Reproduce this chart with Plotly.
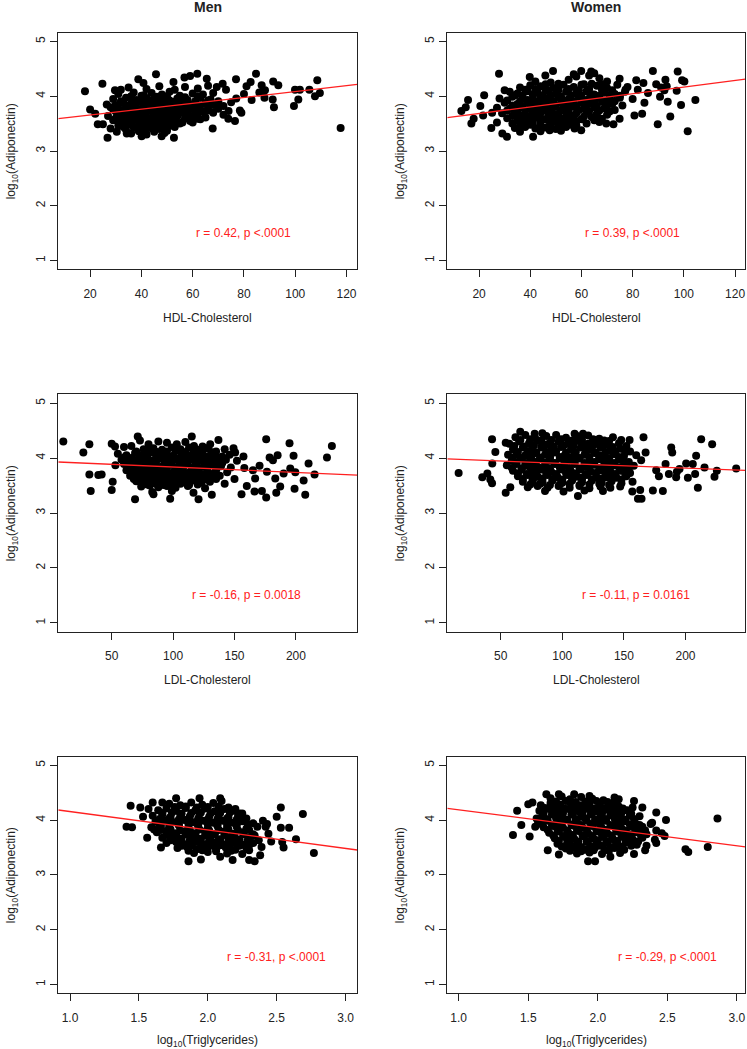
import plotly.graph_objects as go

# ---------------- data ----------------
men_hdl = [
    (18, 4.09), (20, 3.76), (22, 3.68), (24.8, 4.23), (23, 3.49), (26.8, 3.24), (26.5, 3.85), (29.7, 4.11),
    (32, 4.12), (30.4, 3.35), (34.3, 3.32), (38.8, 4.31), (40.8, 4.24), (40.1, 3.27), (45.7, 4.40), (47.9, 3.27),
    (52.7, 3.24), (52.5, 4.26), (56.8, 4.34), (59, 4.37), (61.8, 4.41), (65.5, 4.32), (67.8, 3.41), (69.4, 4.17),
    (71.7, 4.23), (76.9, 4.31), (76.5, 3.55), (73.9, 3.59), (78.4, 3.74), (81, 4.18), (82.6, 4.26), (84.7, 4.41),
    (86.9, 4.20), (88.2, 4.11), (91.4, 4.27), (91.7, 3.80), (93.4, 4.20), (91.2, 3.94), (99.5, 3.82), (99.9, 4.12),
    (101.8, 4.12), (101.2, 3.94), (105.5, 4.12), (107.7, 4.0), (108.6, 4.29), (109.6, 4.06), (117.7, 3.42),
    (35, 4.16), (42, 4.13), (47, 4.18), (53, 4.12), (57, 4.17), (62, 4.14), (66, 4.19), (73, 4.12),
    (31, 4.04), (37, 4.07), (41, 4.02), (44, 4.06), (48, 4.03), (51, 4.08), (55, 4.01), (60, 4.05), (64, 4.03),
    (68, 4.06), (80, 4.04), (86, 4.07),
    (29, 3.95), (34, 3.97), (38, 3.93), (42, 3.96), (45, 3.94), (48, 3.98), (51, 3.92), (54, 3.96), (58, 3.93),
    (63, 3.97), (67, 3.94), (70, 3.91), (77, 3.96), (83, 3.93), (88, 3.97),
    (33, 3.88), (36, 3.86), (40, 3.89), (43, 3.87), (46, 3.85), (49, 3.89), (52, 3.86), (56, 3.88), (60, 3.85),
    (65, 3.87), (69, 3.84), (75, 3.89),
    (28, 3.80), (31, 3.78), (35, 3.81), (38, 3.79), (41, 3.82), (44, 3.78), (47, 3.80), (50, 3.77), (53, 3.81),
    (56, 3.79), (59, 3.82), (62, 3.78), (66, 3.80), (70, 3.77), (74, 3.73), (79, 3.70),
    (30, 3.72), (34, 3.70), (37, 3.73), (40, 3.71), (43, 3.74), (46, 3.70), (49, 3.72), (52, 3.69), (55, 3.73),
    (58, 3.71), (61, 3.68), (64, 3.72), (68, 3.70), (72, 3.66),
    (27, 3.64), (32, 3.62), (36, 3.65), (39, 3.63), (42, 3.61), (45, 3.64), (48, 3.62), (51, 3.66), (54, 3.63),
    (57, 3.60), (60, 3.64), (65, 3.61),
    (29, 3.56), (33, 3.54), (37, 3.57), (40, 3.55), (43, 3.53), (46, 3.57), (49, 3.54), (52, 3.56), (56, 3.52),
    (59, 3.55), (63, 3.58),
    (25, 3.49), (31, 3.47), (35, 3.49), (39, 3.46), (42, 3.48), (45, 3.45), (48, 3.49), (51, 3.46), (55, 3.50),
    (28, 3.41), (34, 3.39), (38, 3.42), (41, 3.38), (44, 3.41), (47, 3.40), (50, 3.37),
    (36, 3.32), (42, 3.30), (49, 3.33),
    (36, 4.00), (40, 4.01), (46, 3.99), (50, 4.00), (57, 3.98), (62, 4.00),
    (32, 3.91), (36.5, 3.92), (40, 3.90), (44, 3.92), (47, 3.91), (50, 3.93), (53, 3.90), (56, 3.92), (61, 3.91),
    (66, 3.92),
    (30, 3.84), (34, 3.83), (37.5, 3.85), (42, 3.83), (45.5, 3.84), (48, 3.82), (51, 3.84), (54, 3.83), (58, 3.85),
    (63, 3.83), (68, 3.84), (72, 3.82),
    (29, 3.76), (33, 3.75), (36, 3.77), (39, 3.75), (42.5, 3.76), (45.5, 3.74), (48.5, 3.76), (51.5, 3.75),
    (54.5, 3.77), (57.5, 3.75), (60.5, 3.76), (66, 3.74),
    (31, 3.68), (35, 3.67), (38, 3.69), (41.5, 3.67), (44.5, 3.68), (47.5, 3.66), (50.5, 3.68), (53.5, 3.67),
    (56.5, 3.69), (62, 3.66),
    (30, 3.60), (34.5, 3.59), (38, 3.61), (41, 3.59), (44, 3.60), (47, 3.58), (50, 3.60), (53, 3.59), (58, 3.61),
    (62, 3.59),
    (32, 3.52), (36, 3.51), (39, 3.53), (42, 3.51), (45, 3.52), (48, 3.50), (51, 3.52), (54, 3.51), (60, 3.52),
    (33, 3.44), (37, 3.43), (40, 3.45), (43, 3.44), (46, 3.43), (49, 3.45), (53, 3.44),
    (39, 3.36), (45, 3.35),
]

women_hdl = [
    (13.1, 3.73), (15.7, 3.93), (14.8, 3.80), (17, 3.50), (17.9, 3.59), (22, 4.02), (21.6, 3.65), (20.5, 3.82),
    (24.8, 3.42), (25.1, 3.70), (27.8, 4.41), (29.1, 3.32), (30.9, 3.26), (30, 4.11), (41.1, 3.26), (39.8, 4.35),
    (48.9, 4.46), (45.9, 4.38), (47.6, 3.38), (59.9, 4.46), (59.9, 3.38), (57.3, 3.41), (63.8, 4.45), (69.7, 3.50),
    (72.5, 3.49), (74.9, 3.59), (74.9, 4.32), (77.2, 4.12), (80.7, 3.65), (81.4, 4.29), (83.7, 3.68), (84.2, 4.24),
    (84.6, 3.88), (87.9, 4.46), (89.2, 4.22), (89.8, 3.49), (91.1, 4.16), (92.8, 4.30), (93.3, 4.18), (93.7, 3.90),
    (94.7, 3.63), (97.6, 4.45), (97.2, 4.10), (98.9, 3.84), (99.3, 4.29), (100.2, 4.27), (101.5, 3.36), (104.5, 3.93),
    (90.7, 3.99), (92.4, 4.11),
    (42, 4.27), (48, 4.25), (55, 4.30), (58, 4.36), (63, 4.38), (67, 4.33), (70, 4.27), (65, 4.42), (57, 4.40),
    (36, 4.16), (40, 4.20), (44, 4.18), (49, 4.15), (53, 4.21), (57, 4.17), (61, 4.22), (66, 4.19), (70, 4.15),
    (74, 4.21), (78, 4.17), (82, 4.12),
    (32, 4.08), (35, 4.05), (39, 4.09), (43, 4.06), (46, 4.10), (50, 4.04), (54, 4.08), (58, 4.05), (62, 4.09),
    (65, 4.03), (69, 4.07), (73, 4.04), (77, 4.08), (86, 4.06),
    (28, 3.96), (33, 3.99), (37, 3.97), (41, 3.95), (44, 3.99), (47, 3.96), (51, 3.98), (55, 3.95), (59, 3.99),
    (63, 3.96), (67, 3.98), (71, 3.94), (75, 3.97), (80, 3.95),
    (30, 3.88), (35, 3.86), (39, 3.89), (42, 3.87), (45, 3.90), (48, 3.86), (52, 3.88), (56, 3.85), (60, 3.89),
    (64, 3.87), (68, 3.90), (72, 3.86), (76, 3.83),
    (27, 3.79), (32, 3.77), (36, 3.80), (40, 3.78), (43, 3.81), (46, 3.77), (49, 3.80), (53, 3.78), (57, 3.81),
    (61, 3.77), (65, 3.80), (69, 3.78), (73, 3.75),
    (29, 3.69), (34, 3.71), (38, 3.68), (41, 3.72), (44, 3.69), (47, 3.71), (51, 3.68), (54, 3.72), (58, 3.69),
    (62, 3.71), (66, 3.68), (70, 3.66),
    (31, 3.60), (35, 3.62), (39, 3.59), (42, 3.61), (45, 3.58), (49, 3.62), (52, 3.59), (56, 3.61), (60, 3.58),
    (64, 3.62), (68, 3.59),
    (27, 3.52), (33, 3.50), (37, 3.53), (41, 3.51), (44, 3.49), (48, 3.52), (51, 3.50), (55, 3.53), (62, 3.50),
    (67, 3.53),
    (34, 3.42), (38, 3.44), (42, 3.41), (46, 3.43), (50, 3.40), (54, 3.44), (58, 3.47),
    (36, 3.35), (44, 3.36), (52, 3.37),
    (46, 4.22), (51, 4.23), (60, 4.21), (64, 4.23), (68, 4.22),
    (38, 4.12), (42, 4.13), (47, 4.11), (51, 4.12), (55, 4.13), (59, 4.11), (63, 4.13), (68, 4.12), (72, 4.11),
    (34, 4.02), (37, 4.01), (41, 4.03), (45, 4.01), (48, 4.02), (52, 4.00), (56, 4.02), (60, 4.01), (64, 4.03),
    (67, 4.01), (71, 4.02), (75, 4.01),
    (31, 3.92), (36, 3.91), (39, 3.93), (43, 3.91), (46, 3.92), (49, 3.90), (53, 3.92), (57, 3.91), (61, 3.93),
    (65, 3.91), (69, 3.92), (73, 3.91),
    (33, 3.83), (37, 3.82), (41, 3.84), (44, 3.82), (47, 3.83), (50, 3.81), (54, 3.83), (58, 3.82), (62, 3.84),
    (66, 3.82), (70, 3.83),
    (31, 3.74), (35, 3.73), (38, 3.75), (42, 3.73), (45, 3.74), (48, 3.72), (52, 3.74), (55, 3.73), (59, 3.75),
    (63, 3.73), (67, 3.74), (71, 3.72),
    (33, 3.64), (37, 3.65), (40, 3.63), (43, 3.65), (47, 3.64), (50, 3.66), (54, 3.64), (57, 3.65), (61, 3.63),
    (66, 3.64),
    (35, 3.56), (38, 3.55), (41, 3.57), (44, 3.55), (47, 3.56), (50, 3.54), (54, 3.56), (58, 3.55), (65, 3.56),
    (36, 3.47), (40, 3.48), (44, 3.46), (48, 3.47), (52, 3.46), (56, 3.48),
]

men_ldl = [
    (10.6, 4.30), (26.9, 4.10), (31.8, 4.25), (31.8, 3.70), (32.9, 3.40), (39.1, 3.69), (41.8, 3.70), (50, 4.26),
    (50, 3.42), (50.8, 3.57), (52.7, 4.21), (69, 3.25), (71.2, 4.39), (84, 3.34), (97.6, 3.26), (115.2, 4.39),
    (116.6, 3.37), (120.7, 3.25), (130.2, 4.25), (131.5, 3.33), (136.9, 4.33), (149.2, 4.18), (150.5, 4.10),
    (155.7, 3.34), (157.3, 4.03), (160, 3.49), (166.8, 3.63), (166.3, 3.39), (170.4, 3.86), (175.8, 4.34),
    (175.8, 3.28), (176.4, 3.75), (172.3, 3.40), (178.6, 4.01), (181.3, 3.96), (183.2, 3.63), (185.1, 4.05),
    (187.2, 3.48), (184, 3.37), (190, 3.72), (194.8, 4.27), (195.4, 3.81), (198.1, 4.04), (199.5, 3.74),
    (198.9, 3.44), (206.3, 3.59), (207.6, 3.33), (210.3, 3.90), (215.2, 3.70), (225.3, 4.01), (229.3, 4.22),
    (73, 4.32), (80, 4.25), (88, 4.30), (95, 4.28), (103, 4.25), (110, 4.29), (117, 4.22), (124, 4.21),
    (60, 4.20), (66, 4.22), (76, 4.16), (84, 4.18), (91, 4.15), (99, 4.19), (106, 4.16), (113, 4.19), (120, 4.15),
    (128, 4.18), (135, 4.12), (142, 4.16),
    (55, 4.08), (62, 4.05), (69, 4.09), (75, 4.06), (82, 4.10), (88, 4.05), (94, 4.08), (100, 4.04), (107, 4.09),
    (114, 4.05), (121, 4.08), (127, 4.03), (133, 4.07), (140, 4.03), (146, 4.06),
    (58, 3.97), (64, 3.99), (70, 3.96), (77, 3.98), (83, 3.95), (89, 3.99), (96, 3.96), (102, 3.98), (108, 3.94),
    (115, 3.98), (122, 3.95), (129, 3.97), (136, 3.93), (143, 3.97), (152, 3.95),
    (53, 3.87), (60, 3.89), (67, 3.86), (73, 3.88), (79, 3.85), (86, 3.89), (92, 3.86), (98, 3.88), (105, 3.85),
    (111, 3.89), (118, 3.86), (125, 3.84), (131, 3.88), (139, 3.85), (147, 3.83), (158, 3.82),
    (62, 3.78), (69, 3.76), (75, 3.79), (81, 3.77), (88, 3.75), (94, 3.79), (101, 3.76), (108, 3.78), (114, 3.75),
    (121, 3.77), (128, 3.74), (135, 3.78), (144, 3.74), (165, 3.78),
    (65, 3.68), (72, 3.66), (78, 3.69), (84, 3.67), (91, 3.65), (97, 3.69), (104, 3.66), (110, 3.68), (117, 3.65),
    (124, 3.67), (131, 3.64), (138, 3.68), (150, 3.62),
    (70, 3.58), (76, 3.56), (83, 3.59), (90, 3.57), (96, 3.55), (103, 3.58), (109, 3.56), (116, 3.59), (123, 3.55),
    (130, 3.57), (142, 3.53),
    (74, 3.48), (81, 3.50), (88, 3.47), (95, 3.49), (102, 3.46), (112, 3.49), (126, 3.45),
    (83, 3.38), (99, 3.40),
    (70, 4.12), (79, 4.13), (87, 4.11), (95, 4.12), (102, 4.13), (110, 4.11), (117, 4.12), (124, 4.13), (131, 4.11),
    (60, 4.01), (66, 4.00), (73, 4.02), (79, 4.01), (86, 4.00), (92, 4.02), (98, 4.01), (105, 4.00), (111, 4.02),
    (118, 4.01), (124, 3.99), (131, 4.01), (137, 4.00),
    (62, 3.92), (67, 3.91), (74, 3.93), (80, 3.92), (86, 3.91), (93, 3.93), (99, 3.92), (105, 3.91), (112, 3.93),
    (119, 3.92), (126, 3.90), (133, 3.92), (140, 3.91),
    (64, 3.82), (70, 3.81), (76, 3.83), (83, 3.82), (89, 3.81), (95, 3.83), (102, 3.82), (108, 3.81), (115, 3.83),
    (121, 3.82), (128, 3.80), (135, 3.82),
    (67, 3.72), (73, 3.71), (80, 3.73), (86, 3.72), (93, 3.71), (99, 3.73), (106, 3.72), (112, 3.71), (119, 3.73),
    (126, 3.71), (133, 3.72),
    (68, 3.62), (75, 3.61), (81, 3.63), (88, 3.62), (94, 3.61), (100, 3.63), (107, 3.62), (114, 3.61), (120, 3.63),
    (127, 3.61), (135, 3.62),
    (79, 3.52), (86, 3.53), (92, 3.51), (99, 3.52), (106, 3.53), (113, 3.51), (120, 3.52),
]

women_ldl = [
    (15.9, 3.73), (35.1, 3.65), (39.2, 3.72), (41.6, 3.61), (43, 4.34), (43.2, 3.90), (43, 3.54), (45.7, 4.11),
    (54.1, 3.37), (54.1, 4.28), (57.8, 3.47), (65.9, 4.48), (77.6, 4.44), (83.8, 4.45), (110, 4.44), (112.7, 3.31),
    (116.8, 4.44), (141.1, 4.38), (147.8, 4.33), (154.6, 4.33), (156.8, 3.39), (161.4, 3.26), (163.2, 3.42),
    (164.3, 3.26), (165.9, 4.38), (167.6, 4.10), (173.5, 3.41), (178.4, 3.67), (176.2, 3.78), (181.6, 3.40),
    (183.8, 3.89), (188.4, 4.19), (189.2, 4.10), (186.5, 3.71), (192.4, 3.65), (193, 3.75), (195.1, 3.80),
    (200.5, 3.90), (201.9, 3.64), (205.9, 3.89), (207.8, 3.71), (208.6, 4.04), (210, 3.46), (212.7, 4.34),
    (215.4, 3.83), (221.6, 4.25), (223.5, 3.66), (225.4, 3.77), (241.1, 3.81),
    (62, 4.38), (70, 4.42), (78, 4.36), (87, 4.40), (95, 4.42), (103, 4.37), (112, 4.40), (121, 4.41), (130, 4.35),
    (138, 4.31),
    (57, 4.26), (65, 4.30), (73, 4.27), (81, 4.31), (89, 4.26), (97, 4.30), (105, 4.27), (113, 4.31), (121, 4.26),
    (129, 4.29), (137, 4.24), (146, 4.27), (152, 4.22),
    (60, 4.16), (68, 4.19), (75, 4.15), (83, 4.19), (91, 4.16), (99, 4.20), (107, 4.15), (115, 4.19), (123, 4.16),
    (131, 4.19), (139, 4.14), (147, 4.17), (155, 4.12),
    (56, 4.06), (63, 4.08), (71, 4.05), (78, 4.09), (86, 4.06), (94, 4.10), (102, 4.05), (110, 4.09), (118, 4.06),
    (126, 4.09), (134, 4.04), (142, 4.07), (150, 4.03), (160, 4.05),
    (59, 3.96), (66, 3.99), (74, 3.96), (82, 3.99), (90, 3.95), (98, 3.99), (106, 3.96), (114, 3.99), (122, 3.95),
    (130, 3.98), (138, 3.94), (146, 3.97), (154, 3.93), (164, 3.96),
    (55, 3.87), (63, 3.89), (70, 3.86), (78, 3.89), (86, 3.85), (94, 3.89), (102, 3.86), (110, 3.89), (118, 3.85),
    (126, 3.88), (134, 3.84), (142, 3.87), (150, 3.83), (158, 3.86),
    (60, 3.77), (67, 3.79), (75, 3.76), (83, 3.79), (91, 3.75), (99, 3.79), (107, 3.76), (115, 3.79), (123, 3.75),
    (131, 3.78), (139, 3.74), (147, 3.77), (155, 3.73),
    (64, 3.67), (72, 3.69), (80, 3.66), (88, 3.69), (96, 3.65), (104, 3.69), (112, 3.66), (120, 3.69), (128, 3.65),
    (136, 3.68), (144, 3.64), (152, 3.67),
    (68, 3.57), (76, 3.59), (84, 3.56), (92, 3.59), (100, 3.55), (108, 3.59), (116, 3.56), (124, 3.59), (132, 3.55),
    (140, 3.58), (148, 3.54), (157, 3.57),
    (72, 3.47), (80, 3.49), (88, 3.46), (97, 3.49), (106, 3.46), (114, 3.49), (122, 3.45), (131, 3.48), (139, 3.46),
    (147, 3.48),
    (86, 3.40), (101, 3.39), (118, 3.41), (133, 3.40),
    (66, 4.33), (74, 4.34), (83, 4.32), (91, 4.33), (99, 4.34), (108, 4.32), (116, 4.33), (125, 4.34), (134, 4.32),
    (61, 4.22), (69, 4.21), (77, 4.23), (85, 4.22), (93, 4.21), (101, 4.23), (109, 4.22), (117, 4.21), (125, 4.23),
    (133, 4.22), (141, 4.20),
    (64, 4.11), (72, 4.12), (79, 4.10), (87, 4.11), (95, 4.12), (103, 4.10), (111, 4.11), (119, 4.12), (127, 4.10),
    (135, 4.11), (143, 4.12), (151, 4.10),
    (60, 4.01), (67, 4.00), (75, 4.02), (82, 4.01), (90, 4.00), (98, 4.02), (106, 4.01), (114, 4.00), (122, 4.02),
    (130, 4.01), (138, 4.00), (146, 4.02),
    (62, 3.92), (70, 3.91), (78, 3.93), (86, 3.92), (94, 3.91), (102, 3.93), (110, 3.92), (118, 3.91), (126, 3.93),
    (134, 3.92), (142, 3.91), (150, 3.92),
    (59, 3.82), (67, 3.81), (74, 3.83), (82, 3.82), (90, 3.81), (98, 3.83), (106, 3.82), (114, 3.81), (122, 3.83),
    (130, 3.82), (138, 3.81), (146, 3.83), (154, 3.81),
    (64, 3.72), (71, 3.71), (79, 3.73), (87, 3.72), (95, 3.71), (103, 3.73), (111, 3.72), (119, 3.71), (127, 3.73),
    (135, 3.72), (143, 3.71), (151, 3.72),
    (68, 3.62), (76, 3.61), (84, 3.63), (92, 3.62), (100, 3.61), (108, 3.63), (116, 3.62), (124, 3.61), (132, 3.63),
    (140, 3.62), (148, 3.61),
    (74, 3.52), (82, 3.53), (90, 3.51), (98, 3.52), (106, 3.53), (114, 3.51), (122, 3.52), (130, 3.53), (138, 3.51),
    (70, 4.05), (90, 4.03), (110, 4.04), (130, 4.05), (80, 3.84), (100, 3.85), (120, 3.84), (140, 3.85),
    (76, 3.64), (96, 3.65), (116, 3.64), (136, 3.65), (86, 4.24), (106, 4.25), (126, 4.25),
]

men_tg = [
    (1.41, 3.88), (1.44, 4.26), (1.45, 3.87), (1.51, 4.23), (1.53, 4.06), (1.56, 3.68), (1.57, 4.20), (1.60, 4.32),
    (1.61, 3.83), (1.67, 4.32), (1.66, 3.50), (1.77, 4.40), (1.86, 3.25), (1.95, 3.28), (1.94, 4.40), (2.09, 4.40),
    (2.09, 3.33), (2.18, 3.27), (2.20, 4.20), (2.30, 3.27), (2.34, 3.25), (2.38, 3.36), (2.39, 3.51), (2.40, 3.99),
    (2.43, 3.93), (2.42, 3.88), (2.44, 3.75), (2.46, 3.61), (2.50, 4.06), (2.53, 4.23), (2.53, 3.86), (2.54, 3.60),
    (2.55, 3.50), (2.59, 3.86), (2.64, 3.65), (2.69, 4.11), (2.77, 3.40),
    (1.72, 4.30), (1.80, 4.27), (1.88, 4.32), (1.96, 4.28), (2.04, 4.31), (2.10, 4.35),
    (1.64, 4.18), (1.70, 4.21), (1.77, 4.17), (1.84, 4.22), (1.91, 4.18), (1.98, 4.21), (2.05, 4.16), (2.12, 4.20),
    (2.19, 4.17), (2.25, 4.12),
    (1.60, 4.08), (1.67, 4.10), (1.73, 4.06), (1.80, 4.10), (1.87, 4.07), (1.94, 4.11), (2.01, 4.06), (2.08, 4.10),
    (2.15, 4.05), (2.22, 4.08), (2.28, 4.03),
    (1.62, 3.97), (1.69, 3.99), (1.76, 3.96), (1.83, 4.00), (1.90, 3.96), (1.97, 3.99), (2.04, 3.95), (2.11, 3.99),
    (2.18, 3.95), (2.25, 3.98), (2.33, 3.94),
    (1.59, 3.87), (1.66, 3.89), (1.72, 3.86), (1.79, 3.90), (1.86, 3.86), (1.93, 3.89), (2.00, 3.85), (2.07, 3.89),
    (2.14, 3.85), (2.21, 3.88), (2.28, 3.84), (2.36, 3.88),
    (1.63, 3.78), (1.70, 3.80), (1.77, 3.76), (1.84, 3.80), (1.91, 3.76), (1.98, 3.79), (2.05, 3.75), (2.12, 3.79),
    (2.19, 3.75), (2.26, 3.78), (2.33, 3.74),
    (1.67, 3.68), (1.74, 3.70), (1.81, 3.66), (1.88, 3.70), (1.95, 3.66), (2.02, 3.69), (2.09, 3.65), (2.16, 3.69),
    (2.23, 3.65), (2.30, 3.68), (2.37, 3.63),
    (1.70, 3.58), (1.77, 3.60), (1.84, 3.56), (1.91, 3.60), (1.98, 3.56), (2.05, 3.59), (2.12, 3.55), (2.19, 3.59),
    (2.26, 3.55), (2.33, 3.58),
    (1.78, 3.49), (1.85, 3.51), (1.92, 3.47), (1.99, 3.51), (2.06, 3.47), (2.13, 3.50), (2.20, 3.46), (2.28, 3.49),
    (1.90, 3.40), (2.00, 3.42), (2.14, 3.39), (2.25, 3.38),
    (1.76, 4.24), (1.84, 4.25), (1.92, 4.23), (2.00, 4.24), (2.08, 4.25), (2.15, 4.23),
    (1.67, 4.13), (1.74, 4.14), (1.81, 4.12), (1.88, 4.13), (1.95, 4.14), (2.02, 4.12), (2.09, 4.13), (2.16, 4.14),
    (2.23, 4.12),
    (1.65, 4.02), (1.72, 4.03), (1.79, 4.01), (1.86, 4.02), (1.93, 4.03), (2.00, 4.01), (2.07, 4.02), (2.14, 4.03),
    (2.21, 4.01), (2.27, 4.02),
    (1.65, 3.92), (1.72, 3.91), (1.79, 3.93), (1.86, 3.92), (1.93, 3.91), (2.00, 3.93), (2.07, 3.92), (2.14, 3.91),
    (2.21, 3.93), (2.29, 3.92),
    (1.66, 3.82), (1.73, 3.83), (1.80, 3.81), (1.87, 3.82), (1.94, 3.83), (2.01, 3.81), (2.08, 3.82), (2.15, 3.83),
    (2.22, 3.81), (2.30, 3.82),
    (1.70, 3.73), (1.77, 3.72), (1.84, 3.74), (1.91, 3.73), (1.98, 3.72), (2.05, 3.74), (2.12, 3.73), (2.19, 3.72),
    (2.26, 3.74), (2.34, 3.72),
    (1.73, 3.63), (1.80, 3.62), (1.87, 3.64), (1.94, 3.63), (2.01, 3.62), (2.08, 3.64), (2.15, 3.63), (2.22, 3.62),
    (2.29, 3.63),
    (1.81, 3.53), (1.88, 3.54), (1.95, 3.52), (2.02, 3.53), (2.09, 3.54), (2.16, 3.52), (2.23, 3.53), (2.30, 3.54),
    (1.86, 3.44), (1.96, 3.45), (2.06, 3.43), (2.17, 3.44), (2.30, 3.45),
]

women_tg = [
    (1.39, 3.73), (1.42, 4.17), (1.45, 3.91), (1.51, 3.70), (1.50, 4.29), (1.53, 4.32), (1.55, 3.88), (1.56, 4.03),
    (1.64, 3.45), (1.63, 4.47), (1.72, 3.37), (1.72, 4.47), (1.83, 4.47), (1.93, 3.25), (1.98, 3.25), (1.94, 4.44),
    (2.09, 3.33), (2.12, 4.41), (2.15, 4.38), (2.26, 4.35), (2.25, 4.23), (2.26, 3.38), (2.32, 4.23), (2.30, 4.07),
    (2.32, 3.88), (2.34, 3.45), (2.38, 3.93), (2.41, 3.64), (2.42, 4.14), (2.39, 3.95), (2.42, 3.58), (2.46, 3.76),
    (2.48, 3.71), (2.49, 4.00), (2.42, 3.81), (2.63, 3.47), (2.65, 3.42), (2.79, 3.51), (2.86, 4.03),
    (1.66, 4.40), (1.74, 4.43), (1.80, 4.38), (1.88, 4.42), (1.96, 4.39), (2.04, 4.36),
    (1.59, 4.27), (1.66, 4.31), (1.73, 4.28), (1.80, 4.32), (1.87, 4.27), (1.94, 4.31), (2.01, 4.27), (2.08, 4.30),
    (2.15, 4.25),
    (1.58, 4.17), (1.65, 4.20), (1.72, 4.16), (1.79, 4.20), (1.86, 4.16), (1.93, 4.20), (2.00, 4.15), (2.07, 4.19),
    (2.14, 4.15), (2.21, 4.18),
    (1.60, 4.07), (1.67, 4.10), (1.74, 4.06), (1.81, 4.10), (1.88, 4.06), (1.95, 4.10), (2.02, 4.05), (2.09, 4.09),
    (2.16, 4.05), (2.23, 4.08),
    (1.57, 3.97), (1.64, 3.99), (1.71, 3.96), (1.78, 4.00), (1.85, 3.96), (1.92, 3.99), (1.99, 3.95), (2.06, 3.99),
    (2.13, 3.95), (2.20, 3.98), (2.27, 3.94),
    (1.61, 3.87), (1.68, 3.89), (1.75, 3.86), (1.82, 3.90), (1.89, 3.86), (1.96, 3.89), (2.03, 3.85), (2.10, 3.89),
    (2.17, 3.85), (2.24, 3.88), (2.31, 3.84),
    (1.65, 3.77), (1.72, 3.79), (1.79, 3.76), (1.86, 3.80), (1.93, 3.76), (2.00, 3.79), (2.07, 3.75), (2.14, 3.79),
    (2.21, 3.75), (2.28, 3.78), (2.35, 3.74),
    (1.69, 3.67), (1.76, 3.69), (1.83, 3.66), (1.90, 3.70), (1.97, 3.66), (2.04, 3.69), (2.11, 3.65), (2.18, 3.69),
    (2.25, 3.65), (2.32, 3.68),
    (1.71, 3.57), (1.78, 3.59), (1.85, 3.56), (1.92, 3.60), (1.99, 3.56), (2.06, 3.59), (2.13, 3.55), (2.20, 3.59),
    (2.28, 3.55), (2.35, 3.53),
    (1.77, 3.48), (1.84, 3.50), (1.91, 3.46), (1.98, 3.50), (2.05, 3.46), (2.12, 3.49), (2.19, 3.46),
    (1.85, 3.39), (1.94, 3.41), (2.03, 3.38), (2.16, 3.40),
    (1.70, 4.34), (1.77, 4.35), (1.84, 4.33), (1.91, 4.34), (1.99, 4.35), (2.07, 4.33), (2.12, 4.34),
    (1.62, 4.22), (1.69, 4.23), (1.76, 4.21), (1.83, 4.22), (1.90, 4.23), (1.97, 4.21), (2.04, 4.22), (2.11, 4.23),
    (2.18, 4.21),
    (1.61, 4.12), (1.68, 4.11), (1.75, 4.13), (1.82, 4.12), (1.89, 4.11), (1.96, 4.13), (2.03, 4.12), (2.10, 4.11),
    (2.17, 4.13), (2.24, 4.12),
    (1.63, 4.02), (1.70, 4.03), (1.77, 4.01), (1.84, 4.02), (1.91, 4.03), (1.98, 4.01), (2.05, 4.02), (2.12, 4.03),
    (2.19, 4.01), (2.26, 4.02),
    (1.60, 3.92), (1.67, 3.91), (1.74, 3.93), (1.81, 3.92), (1.88, 3.91), (1.95, 3.93), (2.02, 3.92), (2.09, 3.91),
    (2.16, 3.93), (2.23, 3.92), (2.30, 3.91),
    (1.64, 3.82), (1.71, 3.83), (1.78, 3.81), (1.85, 3.82), (1.92, 3.83), (1.99, 3.81), (2.06, 3.82), (2.13, 3.83),
    (2.20, 3.81), (2.27, 3.82), (2.34, 3.81),
    (1.68, 3.72), (1.75, 3.71), (1.82, 3.73), (1.89, 3.72), (1.96, 3.71), (2.03, 3.73), (2.10, 3.72), (2.17, 3.71),
    (2.24, 3.73), (2.31, 3.72),
    (1.72, 3.62), (1.79, 3.63), (1.86, 3.61), (1.93, 3.62), (2.00, 3.63), (2.07, 3.61), (2.14, 3.62), (2.21, 3.63),
    (2.29, 3.61),
    (1.74, 3.52), (1.81, 3.53), (1.88, 3.51), (1.95, 3.52), (2.02, 3.53), (2.09, 3.51), (2.16, 3.52), (2.24, 3.53),
    (1.80, 3.44), (1.88, 3.43), (1.97, 3.45), (2.08, 3.44),
]

panel_data = [men_hdl, women_hdl, men_ldl, women_ldl, men_tg, women_tg]
fit_intercepts = [3.549, 3.564, 3.934, 3.989, 4.492, 4.517]
fit_slopes = [0.00536, 0.00602, -0.000973, -0.000857, -0.3364, -0.329]
stat_labels = ["r = 0.42, p <.0001", "r = 0.39, p <.0001",
               "r = -0.16, p = 0.0018", "r = -0.11, p = 0.0161",
               "r = -0.31, p <.0001", "r = -0.29, p <.0001"]
stat_label_x = [80, 80, 160, 160, 2.5, 2.5]
stat_label_y = [1.5, 1.5, 1.5, 1.5, 1.5, 1.5]
column_titles = ["Men", "Women"]
x_titles = ["HDL-Cholesterol", "LDL-Cholesterol", "log<sub>10</sub>(Triglycerides)"]
y_title = "log<sub>10</sub>(Adiponectin)"
x_ranges = [[7.6, 124.2], [7.6, 124.0], [6.5, 250.0], [6.7, 248.5], [0.915, 3.085], [0.918, 3.06]]
x_ticks = [[20, 40, 60, 80, 100, 120], [50, 100, 150, 200], [1.0, 1.5, 2.0, 2.5, 3.0]]
y_ticks = [1, 2, 3, 4, 5]
y_range = [0.84, 5.16]

# ---------------- layout geometry (pixels) ----------------
W, H = 747, 1049
col_px = [(58.3, 357.3), (447.3, 745.3)]
row_px = [(32.7, 269.3), (394.3, 631.7), (756.5, 993.3)]
FONT = "Liberation Sans, Arial, sans-serif"


def fx(p):
    return p / W


def fy(p):
    return 1 - p / H


fig = go.Figure()
layout = dict(
    width=W, height=H, margin=dict(l=0, r=0, t=0, b=0),
    paper_bgcolor="white", plot_bgcolor="white", showlegend=False,
    font=dict(family=FONT, color="#222", size=12),
)
annotations = []

for i in range(6):
    row, col = divmod(i, 2)
    n = i + 1
    xa = "xaxis" if n == 1 else f"xaxis{n}"
    ya = "yaxis" if n == 1 else f"yaxis{n}"
    xr = "x" if n == 1 else f"x{n}"
    yr = "y" if n == 1 else f"y{n}"
    pts = panel_data[i]
    fig.add_trace(go.Scatter(
        x=[p[0] for p in pts], y=[p[1] for p in pts], mode="markers",
        marker=dict(color="black", size=8, line=dict(width=0)),
        xaxis=xr, yaxis=yr, hoverinfo="skip"))
    lo, hi = x_ranges[i]
    fig.add_trace(go.Scatter(
        x=[lo, hi], y=[fit_intercepts[i] + fit_slopes[i] * lo, fit_intercepts[i] + fit_slopes[i] * hi],
        mode="lines", line=dict(color="#ff2020", width=1.3),
        xaxis=xr, yaxis=yr, hoverinfo="skip"))
    c0, c1 = col_px[col]
    r0, r1 = row_px[row]
    layout[xa] = dict(
        domain=[fx(c0), fx(c1)], range=x_ranges[i], anchor=yr,
        tickvals=x_ticks[row], tickformat=".1f" if row == 2 else "d",
        ticks="outside", ticklen=7, tickwidth=1, tickcolor="#222",
        showline=True, mirror=True, linecolor="#222", linewidth=1.3,
        showgrid=False, zeroline=False, ticklabelstandoff=6,
        tickfont=dict(family=FONT, size=12, color="#222"))
    layout[ya] = dict(
        domain=[fy(r1), fy(r0)], range=y_range, anchor=xr,
        tickvals=y_ticks, tickangle=-90,
        ticks="outside", ticklen=7, tickwidth=1, tickcolor="#222",
        showline=True, mirror=True, linecolor="#222", linewidth=1.3,
        showgrid=False, zeroline=False,
        tickfont=dict(family=FONT, size=12, color="#222"))
    annotations.append(dict(
        x=stat_label_x[i], y=stat_label_y[i], xref=xr, yref=yr, text=stat_labels[i],
        showarrow=False, font=dict(family=FONT, size=12, color="#ff2020"),
        xanchor="center", yanchor="middle"))
    annotations.append(dict(
        x=fx(c0 - 46), y=fy((r0 + r1) / 2), xref="paper", yref="paper", text=y_title,
        textangle=-90, showarrow=False, font=dict(family=FONT, size=12, color="#222"),
        xanchor="center", yanchor="middle"))

x_title_y = [318, 680, 1041]
for row in range(3):
    for col in range(2):
        c0, c1 = col_px[col]
        annotations.append(dict(
            x=fx((c0 + c1) / 2), y=fy(x_title_y[row]), xref="paper", yref="paper",
            text=x_titles[row], showarrow=False,
            font=dict(family=FONT, size=12, color="#222"),
            xanchor="center", yanchor="middle"))

for col in range(2):
    c0, c1 = col_px[col]
    annotations.append(dict(
        x=fx((c0 + c1) / 2), y=fy(7), xref="paper", yref="paper",
        text=f"<b>{column_titles[col]}</b>", showarrow=False,
        font=dict(family=FONT, size=14, color="#222"),
        xanchor="center", yanchor="middle"))

layout["annotations"] = annotations
fig.update_layout(**layout)
fig.write_html("out.html", config={"displayModeBar": False},
               post_script="document.body.style.margin='0';document.body.style.overflow='hidden';")
